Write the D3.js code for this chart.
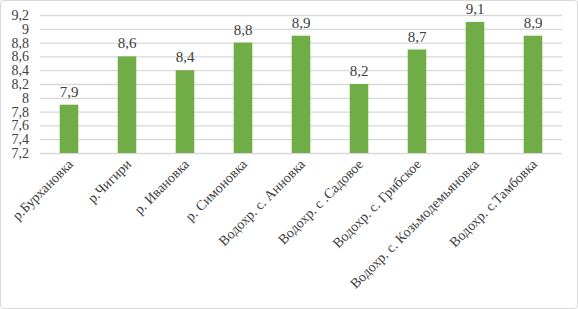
<!DOCTYPE html>
<html><head><meta charset="utf-8">
<script src="https://cdn.jsdelivr.net/npm/d3@7"></script>
<style>body{margin:0;background:#fff}svg{display:block}</style>
</head><body>
<svg id="c" width="578" height="309"></svg>
<script>
const categories = ["р.Бурхановка","р.Чигири","р. Ивановка","р. Симоновка","Водохр. с. Анновка","Водохр. с .Садовое","Водохр. с. Грибское","Водохр. с. Козьмодемьяновка","Водохр. с.Тамбовка"];
const values = [7.9,8.6,8.4,8.8,8.9,8.2,8.7,9.1,8.9];
const yTicks = [7.2,7.4,7.6,7.8,8,8.2,8.4,8.6,8.8,9,9.2];

(function(){
const svg = d3.select("#c");
const fmt = v => String(v).replace(".", ",");
svg.append("rect").attr("x",0.5).attr("y",0.5).attr("width",577).attr("height",308)
  .attr("rx",3).attr("fill","#fff").attr("stroke","#d9d9d9");

const pL=40, pR=562, pT=15, pB=153;
const x = d3.scaleBand().domain(categories).range([pL,pR]).paddingInner(0.68).paddingOuter(0.34);
const y = d3.scaleLinear().domain([7.2,9.2]).range([pB,pT]);

const yAxis = d3.axisLeft(y).tickValues(yTicks).tickSize(-(pR-pL)).tickFormat(fmt);
const g = svg.append("g").attr("transform",`translate(${pL},0)`).call(yAxis);
g.select(".domain").remove();
g.selectAll(".tick line").attr("stroke","#d9d9d9").attr("stroke-width",1.3);
g.selectAll(".tick text").attr("x",-11).attr("font-family","Liberation Serif").attr("font-size",14).attr("fill","#404040");

svg.selectAll("rect.bar").data(values).join("rect").attr("class","bar")
  .attr("x",(d,i)=>x(categories[i])).attr("width",x.bandwidth())
  .attr("y",d=>y(d)).attr("height",d=>pB-y(d)).attr("fill","#70ad47");

svg.selectAll("text.val").data(values).join("text").attr("class","val")
  .attr("x",(d,i)=>x(categories[i])+x.bandwidth()/2).attr("y",d=>y(d)-8)
  .attr("text-anchor","middle").attr("font-family","Liberation Serif").attr("font-size",15).attr("fill","#404040")
  .text(fmt);

const xAxis = d3.axisBottom(x).tickSize(0).tickPadding(0);
const gx = svg.append("g").attr("transform",`translate(0,${pB})`).call(xAxis);
gx.select(".domain").remove();
gx.selectAll(".tick text")
  .attr("font-family","Liberation Serif").attr("font-size",14).attr("fill","#404040")
  .attr("text-anchor","end").attr("dy",0).attr("y",0)
  .attr("transform","translate(5,12) rotate(-45)");
})();
</script>
</body></html>
